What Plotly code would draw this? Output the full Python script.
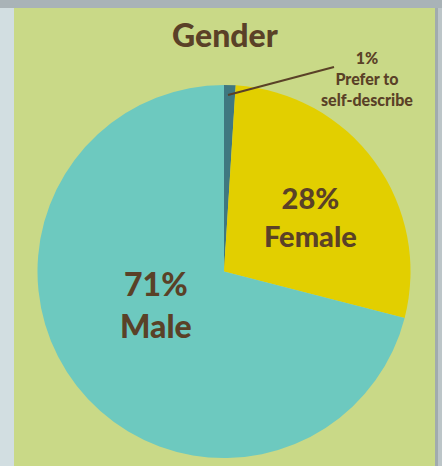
import plotly.graph_objects as go

categories = ["Prefer to self-describe", "Female", "Male"]
label_lines = [["Prefer to", "self-describe"], ["Female"], ["Male"]]
values = [1, 28, 71]
colors = ["#3f7880", "#e2cf00", "#6dc9bf"]

W, H = 442, 466
BROWN = "#5a4127"
FONT = "Lato"
WEIGHT = 900

def px(x):
    return x / W

def py(y):
    return 1 - y / H

fig = go.Figure(go.Pie(
    labels=categories,
    values=values,
    marker=dict(colors=colors, line=dict(width=0)),
    sort=False,
    direction="clockwise",
    rotation=0,
    textinfo="none",
    hoverinfo="label+percent",
    showlegend=False,
    domain=dict(x=[px(37), px(411)], y=[py(458), py(85)]),
))

shapes = [
    dict(type="rect", xref="paper", yref="paper", x0=0, x1=1, y0=py(8), y1=1,
         fillcolor="#a9b3b7", line=dict(width=0), layer="below"),
    dict(type="rect", xref="paper", yref="paper", x0=px(435), x1=px(438), y0=0, y1=py(8),
         fillcolor="#a1abae", line=dict(width=0), layer="below"),
    dict(type="rect", xref="paper", yref="paper", x0=px(438), x1=1, y0=0, y1=py(8),
         fillcolor="#bcc5c8", line=dict(width=0), layer="below"),
    dict(type="rect", xref="paper", yref="paper", x0=px(14), x1=px(435), y0=0, y1=py(8),
         fillcolor="#c9d987", line=dict(width=0), layer="below"),
    dict(type="line", xref="paper", yref="paper", x0=px(228), y0=py(95), x1=px(334), y1=py(67),
         line=dict(color=BROWN, width=2.2), layer="above"),
]

def block(lines, size, x, y):
    return dict(text="<br>".join(lines), x=px(x), y=py(y), xref="paper", yref="paper",
                showarrow=False, xanchor="center", yanchor="middle", align="center",
                font=dict(size=size, color=BROWN, family=FONT, weight=WEIGHT))

annotations = [
    block(["Gender"], 32, 224.5, 35),
    block([f"{values[0]}%"] + label_lines[0], 16, 367, 78.5),
    block([f"{values[1]}%"] + label_lines[1], 29, 310, 216.5),
    block([f"{values[2]}%"] + label_lines[2], 32, 156, 304),
]

fig.update_layout(
    width=W, height=H,
    margin=dict(l=0, r=0, t=0, b=0),
    paper_bgcolor="#d2dee1",
    plot_bgcolor="rgba(0,0,0,0)",
    shapes=shapes,
    annotations=annotations,
)

fig.write_html("out.html", config={"displayModeBar": False},
               post_script="document.body.style.margin='0';document.body.style.overflow='hidden';")
